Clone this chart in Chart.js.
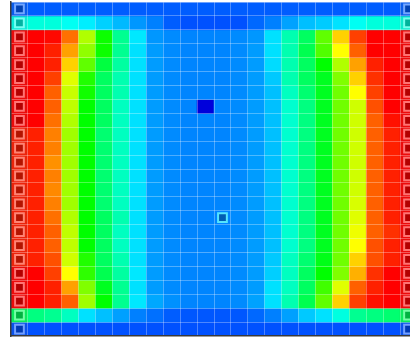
<!DOCTYPE html>
<html>
<head>
<meta charset="utf-8">
<script src="https://cdn.jsdelivr.net/npm/chart.js@4/dist/chart.umd.min.js"></script>
<style>
  html, body { margin: 0; padding: 0; overflow: hidden; background: #fff; width: 410px; height: 339px; }
  #wrap { position: absolute; left: 0; top: 0; width: 417px; height: 339px; }
</style>
</head>
<body>
<div id="wrap"><canvas id="heat" width="417" height="339"></canvas></div>
<script>
// Column and row categories of the grid
const columnLabels = Array.from({ length: 24 }, (_, i) => 'C' + (i + 1));
const rowLabels = Array.from({ length: 24 }, (_, i) => 'R' + (i + 1));

// Cell values, one array per row (top to bottom), scale 0-100
const r00 = [16,16,16,16,16,16,16,16,16,16,16,16,16,16,16,16,16,16,16,16,16,16,16,16];
const r01 = [32,33,33,31,28.5,26,24,21,19,16,15,15,15,15,17,19,22,24.5,25.5,27.5,31,33,33,33];
const r02 = [96,96,95.3,86.3,67.2,53,39.5,28,21,20,19.5,19.5,19.5,20,21,27.4,36.8,43.7,60.3,78,90.5,96,96,96];
const r03 = [96,96,93.2,82.1,64.4,53,39.5,27.4,21.5,20,19.5,19.5,19.5,20,21.5,27.4,36.8,45.1,58.9,74,87.7,96,96,96];
const r04 = [96,96,93.2,78,60.3,46.5,38.1,27.4,21.5,20,19.5,19.5,19.5,20,21.5,27,36.8,43.7,52,67.2,82.1,93.2,96,96];
const r05 = [96,96,90.5,71.3,54.8,43.7,36.8,27.4,21.5,20,19.5,19.5,19.5,20,21.5,25.3,36.8,43.7,49.2,63,78,91.9,96,96];
const r06 = [96,96,87.7,69.2,53.4,43.7,36.8,27.4,21.5,20,19.5,19.5,19.5,20,21.5,24.6,35.4,42.3,49.2,61.7,74,90.5,96,96];
const r07 = [96,96,87.7,68.5,52,43.7,35.4,27.4,21.5,20,19.5,5.5,19.5,20,21.5,24.6,34.1,41,49.2,61.7,69.9,89.1,96,96];
const r08 = [96,96,86.3,67.2,52,43.7,35.4,27.4,21.5,20,19.5,19.5,19.5,20,21.5,24.6,34.1,41,49.2,61.7,69.9,87.7,94.6,96];
const r09 = [93.5,93.2,85,65.8,52,42.3,35.4,27.4,21.5,20,19.5,19.5,19.5,20,21.5,24.6,34.1,41,49.2,61.7,69.9,87.7,93.2,96];
const r10 = [93.5,93.2,85,65.8,52,42.3,35.4,27.4,21.5,20,19.5,19.5,19.5,20,21.5,24.6,34.1,41,49.2,61.7,69.9,87.7,93.2,96];
const r11 = [93.5,93.2,83.5,65.8,52,42.3,35.4,27.4,21.5,20,19.5,19.5,19.5,20,21.5,24.6,34.1,41,49.2,61.7,69.9,87.7,93.2,96];
const r12 = [93.5,93.2,85,65.8,52,42.3,35.4,27.4,21.5,20,19.5,19.5,19.5,20,21.5,24.6,34.1,41,49.2,61.7,69.9,87.7,93.2,96];
const r13 = [93.5,93.2,84.2,65.8,52,42.3,35.4,27.4,21.5,20,19.5,19.5,19.5,20,21.5,24.6,34.1,41,49.2,61.7,69.9,87.7,93.2,96];
const r14 = [93.5,93.2,85,65.8,52,42.3,35.4,27.4,21.5,20,19.5,19.5,19.5,20,21.5,24.6,34.1,41,49.2,61.7,70.6,87.7,93.2,96];
const r15 = [93.5,93.2,86.3,67.2,52,43.7,36.8,27.4,21.5,20,19.5,19.5,19.5,20,21.5,24.6,34.1,41,49.2,61.7,71.3,87.7,93.2,96];
const r16 = [93.5,93.2,87.7,68.5,52,43.7,35.4,27.4,21.5,20,19.5,19.5,19.5,20,21.5,24.6,34.1,41,49.2,61.7,72.6,87.7,91.9,96];
const r17 = [93.5,93.2,87.7,68.5,52,43.7,35.4,27.4,21.5,20,19.5,19.5,19.5,20,21.5,24.6,34.1,41,49.2,61.7,74,89.1,93.2,96];
const r18 = [93.5,93.2,89.1,69.9,54.8,43.7,36.8,27.4,21.5,20,19.5,19.5,19.5,20,21.5,25.3,35.4,42.3,50,61.7,78,89.1,93.2,96];
const r19 = [96,96,90.5,74,56,45.1,38.1,28,21.5,20,19.5,19.5,19.5,20,21.5,25.9,35.4,43.7,52,63,80.8,91.9,96,96];
const r20 = [96,96,93.2,82.1,63,49.2,39.5,27.4,21.5,20,19.5,19.5,19.5,20,21.5,27.4,35.4,43.7,57.5,71.3,87.7,93.2,96,96];
const r21 = [96,96,93.2,87.7,65.8,52,39.5,28,22.5,20.5,19.5,19.5,19.5,20,22,27.4,36.8,45.1,60.3,78,90.5,94.6,96,96];
const r22 = [44,41,39.5,35.4,27.4,24.6,21.8,19,17.7,16,15.5,15.5,15.5,15.5,17,19,21.8,25.3,27.4,32.7,39.5,41,42.3,44];
const r23 = [15,15,15,15,15,15,15,15,15,15,15,15,15,15,15,15,15,15,15,15,15,15,15,15];

const rows = [r00,r01,r02,r03,r04,r05,r06,r07,r08,r09,r10,r11,r12,r13,r14,r15,r16,r17,r18,r19,r20,r21,r22,r23];

// Flagged cells: both edge columns on every row, plus one interior cell
const flaggedColumns = [0, 23];
const extraFlags = [[15, 12]];

// Rainbow ramp, dark blue -> blue -> cyan -> green -> yellow -> red
const rampStops = [
  [0,   [0, 0, 140]],
  [8,   [0, 0, 255]],
  [30,  [0, 255, 255]],
  [52,  [0, 255, 0]],
  [74,  [255, 255, 0]],
  [96,  [255, 0, 0]],
  [100, [200, 0, 0]]
];

function ramp(v) {
  if (v <= rampStops[0][0]) return rampStops[0][1].slice();
  for (let i = 1; i < rampStops.length; i++) {
    const [v1, c1] = rampStops[i];
    const [v0, c0] = rampStops[i - 1];
    if (v <= v1) {
      const t = (v - v0) / (v1 - v0);
      return c0.map((a, k) => Math.round(a + (c1[k] - a) * t));
    }
  }
  return rampStops[rampStops.length - 1][1].slice();
}

const rgb = c => `rgb(${c[0]},${c[1]},${c[2]})`;
const mix = (c, target, t) => c.map((a, k) => Math.round(a + (target[k] - a) * t));

const flagged = [];
rows.forEach((_, r) => flaggedColumns.forEach(c => flagged.push([r, c])));
extraFlags.forEach(p => flagged.push(p));
const isFlagged = (r, c) => flagged.some(([fr, fc]) => fr === r && fc === c);

function cellFill(r, c) {
  const base = ramp(rows[r][c]);
  // flagged edge cells sit slightly dimmer than their neighbours
  return rgb(isFlagged(r, c) && flaggedColumns.includes(c) ? mix(base, [90, 90, 90], 0.12) : base);
}

// one floating-bar dataset per row: each bar spans [row, row + 1]
const cellSets = rows.map((vals, r) => ({
  type: 'bar',
  label: rowLabels[r],
  data: vals.map(() => [r, r + 1]),
  backgroundColor: vals.map((_, c) => cellFill(r, c)),
  borderWidth: 0,
  grouped: false,
  barPercentage: 1,
  categoryPercentage: 1,
  order: 2
}));

// square flag markers drawn inside flagged cells
const flagSet = {
  type: 'scatter',
  label: 'flags',
  data: flagged.map(([r, c]) => ({ x: columnLabels[c], y: r + 0.5 })),
  pointStyle: 'rect',
  pointRadius: 6.2,
  pointHoverRadius: 6.2,
  pointBorderWidth: 2,
  pointBackgroundColor: flagged.map(([r, c]) => rgb(mix(ramp(rows[r][c]), [0, 0, 0], 0.3))),
  pointBorderColor: flagged.map(([r, c]) => {
    const base = ramp(rows[r][c]);
    return c === 12 ? 'rgba(90,235,255,0.95)' : rgb(mix(base, [255, 255, 255], 0.45));
  }),
  order: 0
};

new Chart(document.getElementById('heat'), {
  type: 'bar',
  data: { labels: columnLabels, datasets: [...cellSets, flagSet] },
  options: {
    responsive: false,
    animation: false,
    events: [],
    layout: { autoPadding: false, padding: { left: 11, top: 2, right: 0, bottom: 3 } },
    plugins: { legend: { display: false }, tooltip: { enabled: false } },
    scales: {
      x: {
        type: 'category',
        offset: true,
        ticks: { display: false },
        grid: { display: true, offset: true, drawTicks: false, color: 'rgba(255,255,255,0.3)', lineWidth: 1, z: 1 },
        border: { display: true, color: '#3a3a3a', width: 1.5, z: 2 }
      },
      y: {
        type: 'linear',
        min: 0,
        max: 24,
        reverse: true,
        ticks: { display: false, stepSize: 1, maxTicksLimit: 30 },
        grid: { display: true, drawTicks: false, color: 'rgba(255,255,255,0.3)', lineWidth: 1, z: 1 },
        border: { display: true, color: '#3a3a3a', width: 1.5, z: 2 }
      }
    }
  }
});
</script>
</body>
</html>
